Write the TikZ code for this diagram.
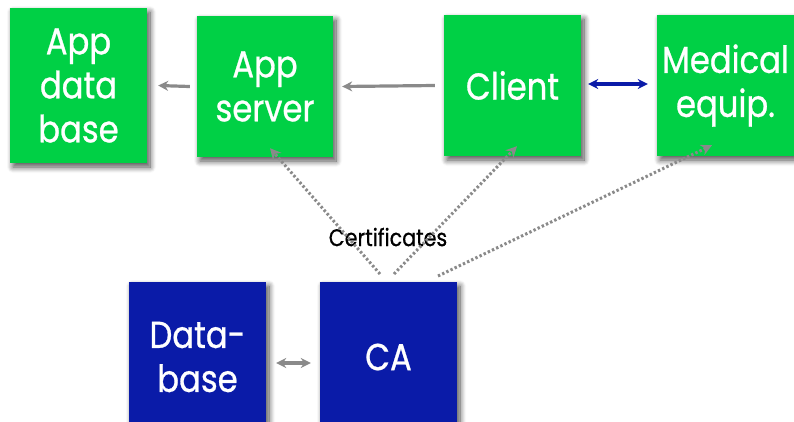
\documentclass[tikz,border=0pt]{standalone}
\usepackage{fontspec}
\setmainfont{Poppins}[FakeStretch=0.86,FakeBold=0.7]
\usetikzlibrary{arrows.meta,shadows.blur}
\definecolor{boxgreen}{HTML}{00D045}
\definecolor{boxblue}{HTML}{0A1BA8}
\definecolor{linkgray}{HTML}{8A8A8A}
\definecolor{linkblue}{HTML}{0A1BA8}
\tikzset{
  unit/.style={rectangle, inner sep=0pt, text=white, align=center,
    font=\fontsize{37.5}{44}\selectfont,
    blur shadow={shadow xshift=3pt, shadow yshift=-4pt, shadow blur steps=10, shadow blur radius=6pt, shadow opacity=70}},
  greenbox/.style={unit, fill=boxgreen},
  bluebox/.style={unit, fill=boxblue},
  flow/.style={draw=linkgray, line width=3.2pt, -{Stealth[length=10pt,width=10pt]}},
  flowboth/.style={flow, {Stealth[length=10pt,width=10pt]}-{Stealth[length=10pt,width=10pt]}},
  device/.style={draw=linkblue, line width=3.2pt, {Stealth[length=10pt,width=10pt]}-{Stealth[length=10pt,width=10pt]}},
  cert/.style={draw=linkgray, line width=3pt, dash pattern=on 2.4pt off 2.2pt, -{Stealth[length=11pt,width=11pt]}},
}
\begin{document}
\begin{tikzpicture}[x=1pt,y=-1pt]
  \useasboundingbox (0,0) rectangle (794,421);
  % upper row: application side
  \node[greenbox, minimum width=137pt, minimum height=155pt] (appdb) at (78.5,85.5) {App\\data\\base};
  \node[greenbox, minimum width=136pt, minimum height=141pt] (appsrv) at (265,86.5) {App\\server};
  \node[greenbox, minimum width=137pt, minimum height=141pt] (client) at (512.5,85.5) {Client};
  \node[greenbox, minimum width=137pt, minimum height=141pt] (medical) at (725.5,85.5) {Medical\\equip.};
  % lower row: certificate authority
  \node[bluebox, minimum width=137pt, minimum height=150pt] (db) at (197.5,357) {Data-\\base};
  \node[bluebox, minimum width=137pt, minimum height=150pt] (ca) at (388.5,357) {CA};
  \node[font=\fontsize{24}{28}\selectfont, text=black] (certlabel) at (388,237) {Certificates};

  % horizontal links
  \draw[flow] ([xshift=-7pt]appsrv.west) -- ([xshift=11pt]appdb.east);
  \draw[flow] ([xshift=-9pt]client.west) -- ([xshift=9pt]appsrv.east);
  \draw[device] ([xshift=7pt,yshift=1.5pt]client.east) -- ([xshift=-9pt,yshift=1.5pt]medical.west);
  \draw[flowboth] ([xshift=10pt,yshift=-6pt]db.east) -- ([xshift=-9pt,yshift=-6pt]ca.west);

  % certificate distribution
  \coordinate (c1) at (380,274);
  \coordinate (c2) at (394,274);
  \coordinate (c3) at (438,276);
  \draw[cert] (c1) -- ([xshift=5pt,yshift=9pt]appsrv.south);
  \draw[cert] (c2) -- ([xshift=4.5pt,yshift=10pt]client.south);
  \draw[cert] (c3) -- ([xshift=-13.5pt,yshift=11pt]medical.south);
\end{tikzpicture}
\end{document}
